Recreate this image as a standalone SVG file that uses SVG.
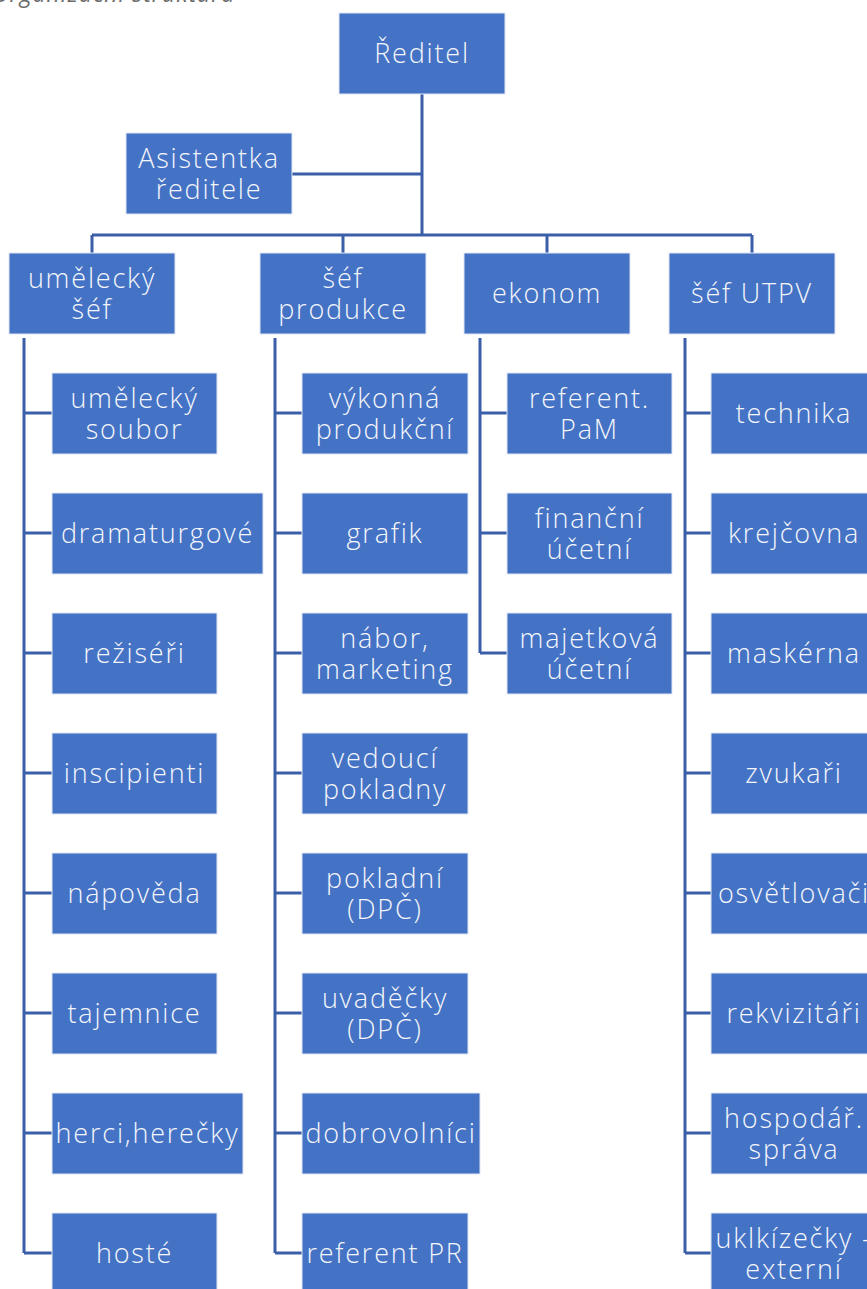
<svg xmlns="http://www.w3.org/2000/svg" width="867" height="1289" viewBox="0 0 867 1289">
  <style>
    .box { fill: #4472C4; stroke: #dfe6f3; stroke-width: 1; }
    .lbl { font-family: "Open Sans", "Liberation Sans", sans-serif; font-weight: 300; font-size: 27px; letter-spacing: 1.8px; fill: #f4f6fb; text-anchor: middle; }
    .line { stroke: #3b5ea8; stroke-width: 3; fill: none; }
    .cap { font-family: "Open Sans", "Liberation Sans", sans-serif; font-style: italic; font-size: 23px; letter-spacing: 1px; fill: #6b6b6b; }
  </style>
  <rect width="867" height="1289" fill="#ffffff"/>

  <!-- caption, partly above the top edge -->
  <text class="cap" x="-8" y="2">Organizační struktura</text>

  <!-- connectors -->
  <g id="connectors">
    <path class="line" d="M422 94V235M292 174H422M92 235H752M92 235V253M343 235V253M547 235V253M752 235V253"/>
    <path class="line" d="M24 338V1253M24 413H52M24 533H52M24 653H52M24 773H52M24 893H52M24 1013H52M24 1133H52M24 1253H52"/>
    <path class="line" d="M275 338V1253M275 413H302M275 533H302M275 653H302M275 773H302M275 893H302M275 1013H302M275 1133H302M275 1253H302"/>
    <path class="line" d="M480 338V653M480 413H507M480 533H507M480 653H507"/>
    <path class="line" d="M685 338V1253M685 413H711M685 533H711M685 653H711M685 773H711M685 893H711M685 1013H711M685 1133H711M685 1253H711"/>
  </g>

  <!-- top level -->
  <g id="reditel"><rect class="box" x="339" y="13" width="166" height="81"/><text class="lbl" x="422" y="63">Ředitel</text></g>
  <g id="asistentka"><rect class="box" x="126" y="133" width="166" height="81"/><text class="lbl" x="209" y="168">Asistentka</text><text class="lbl" x="209" y="199">ředitele</text></g>

  <!-- department heads -->
  <g id="umelecky-sef"><rect class="box" x="9" y="253" width="166" height="81"/><text class="lbl" x="92" y="288">umělecký</text><text class="lbl" x="92" y="319">šéf</text></g>
  <g id="sef-produkce"><rect class="box" x="260" y="253" width="166" height="81"/><text class="lbl" x="343" y="288">šéf</text><text class="lbl" x="343" y="319">produkce</text></g>
  <g id="ekonom"><rect class="box" x="464" y="253" width="166" height="81"/><text class="lbl" x="547" y="303">ekonom</text></g>
  <g id="sef-utpv"><rect class="box" x="669" y="253" width="166" height="81"/><text class="lbl" x="752" y="303">šéf UTPV</text></g>

  <!-- artistic section -->
  <g id="umelecky-soubor"><rect class="box" x="52" y="373" width="165" height="81"/><text class="lbl" x="134.5" y="408">umělecký</text><text class="lbl" x="134.5" y="439">soubor</text></g>
  <g id="dramaturgove"><rect class="box" x="52" y="493" width="211" height="81"/><text class="lbl" x="157.5" y="543">dramaturgové</text></g>
  <g id="reziseri"><rect class="box" x="52" y="613" width="165" height="81"/><text class="lbl" x="134.5" y="663">režiséři</text></g>
  <g id="inscipienti"><rect class="box" x="52" y="733" width="165" height="81"/><text class="lbl" x="134.5" y="783">inscipienti</text></g>
  <g id="napoveda"><rect class="box" x="52" y="853" width="165" height="81"/><text class="lbl" x="134.5" y="903">nápověda</text></g>
  <g id="tajemnice"><rect class="box" x="52" y="973" width="165" height="81"/><text class="lbl" x="134.5" y="1023">tajemnice</text></g>
  <g id="herci"><rect class="box" x="52" y="1093" width="191" height="81"/><text class="lbl" x="147.5" y="1143">herci,herečky</text></g>
  <g id="hoste"><rect class="box" x="52" y="1213" width="165" height="81"/><text class="lbl" x="134.5" y="1263">hosté</text></g>

  <!-- production section -->
  <g id="vykonna-produkcni"><rect class="box" x="302" y="373" width="166" height="81"/><text class="lbl" x="385" y="408">výkonná</text><text class="lbl" x="385" y="439">produkční</text></g>
  <g id="grafik"><rect class="box" x="302" y="493" width="166" height="81"/><text class="lbl" x="385" y="543">grafik</text></g>
  <g id="nabor"><rect class="box" x="302" y="613" width="166" height="81"/><text class="lbl" x="385" y="648">nábor,</text><text class="lbl" x="385" y="679">marketing</text></g>
  <g id="vedouci-pokladny"><rect class="box" x="302" y="733" width="166" height="81"/><text class="lbl" x="385" y="768">vedoucí</text><text class="lbl" x="385" y="799">pokladny</text></g>
  <g id="pokladni"><rect class="box" x="302" y="853" width="166" height="81"/><text class="lbl" x="385" y="888">pokladní</text><text class="lbl" x="385" y="919">(DPČ)</text></g>
  <g id="uvadecky"><rect class="box" x="302" y="973" width="166" height="81"/><text class="lbl" x="385" y="1008">uvaděčky</text><text class="lbl" x="385" y="1039">(DPČ)</text></g>
  <g id="dobrovolnici"><rect class="box" x="302" y="1093" width="178" height="81"/><text class="lbl" x="391" y="1143">dobrovolníci</text></g>
  <g id="referent-pr"><rect class="box" x="302" y="1213" width="166" height="81"/><text class="lbl" x="385" y="1263">referent PR</text></g>

  <!-- economic section -->
  <g id="referent-pam"><rect class="box" x="507" y="373" width="165" height="81"/><text class="lbl" x="589.5" y="408">referent.</text><text class="lbl" x="589.5" y="439">PaM</text></g>
  <g id="financni-ucetni"><rect class="box" x="507" y="493" width="165" height="81"/><text class="lbl" x="589.5" y="528">finanční</text><text class="lbl" x="589.5" y="559">účetní</text></g>
  <g id="majetkova-ucetni"><rect class="box" x="507" y="613" width="165" height="81"/><text class="lbl" x="589.5" y="648">majetková</text><text class="lbl" x="589.5" y="679">účetní</text></g>

  <!-- technical section -->
  <g id="technika"><rect class="box" x="711" y="373" width="166" height="81"/><text class="lbl" x="794" y="423">technika</text></g>
  <g id="krejcovna"><rect class="box" x="711" y="493" width="166" height="81"/><text class="lbl" x="794" y="543">krejčovna</text></g>
  <g id="maskerna"><rect class="box" x="711" y="613" width="166" height="81"/><text class="lbl" x="794" y="663">maskérna</text></g>
  <g id="zvukari"><rect class="box" x="711" y="733" width="166" height="81"/><text class="lbl" x="794" y="783">zvukaři</text></g>
  <g id="osvetlovaci"><rect class="box" x="711" y="853" width="166" height="81"/><text class="lbl" x="794" y="903">osvětlovači</text></g>
  <g id="rekvizitari"><rect class="box" x="711" y="973" width="166" height="81"/><text class="lbl" x="794" y="1023">rekvizitáři</text></g>
  <g id="hospodarska-sprava"><rect class="box" x="711" y="1093" width="166" height="81"/><text class="lbl" x="794" y="1128">hospodář.</text><text class="lbl" x="794" y="1159">správa</text></g>
  <g id="uklizecky"><rect class="box" x="711" y="1213" width="166" height="81"/><text class="lbl" x="794" y="1248">uklkízečky -</text><text class="lbl" x="794" y="1279">externí</text></g>
</svg>
